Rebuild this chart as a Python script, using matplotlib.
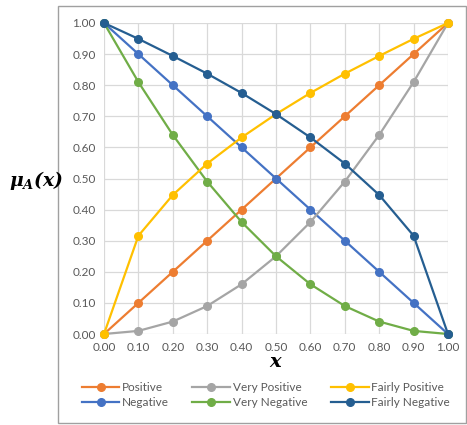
import matplotlib
matplotlib.use("Agg")
import matplotlib.pyplot as plt
from matplotlib.patches import Rectangle

# membership values for each linguistic hedge
x_vals = [0.0, 0.1, 0.2, 0.3, 0.4, 0.5, 0.6, 0.7, 0.8, 0.9, 1.0]
positive = [0.0, 0.1, 0.2, 0.3, 0.4, 0.5, 0.6, 0.7, 0.8, 0.9, 1.0]
negative = [1.0, 0.9, 0.8, 0.7, 0.6, 0.5, 0.4, 0.3, 0.2, 0.1, 0.0]
very_positive = [0.0, 0.01, 0.04, 0.09, 0.16, 0.25, 0.36, 0.49, 0.64, 0.81, 1.0]
very_negative = [1.0, 0.81, 0.64, 0.49, 0.36, 0.25, 0.16, 0.09, 0.04, 0.01, 0.0]
fairly_positive = [0.0, 0.316, 0.447, 0.548, 0.632, 0.707, 0.775, 0.837, 0.894, 0.949, 1.0]
fairly_negative = [1.0, 0.949, 0.894, 0.837, 0.775, 0.707, 0.632, 0.548, 0.447, 0.316, 0.0]

series = [
    ("Positive", positive, "#ED7D31"),
    ("Negative", negative, "#4472C4"),
    ("Very Positive", very_positive, "#A5A5A5"),
    ("Very Negative", very_negative, "#70AD47"),
    ("Fairly Positive", fairly_positive, "#FFC000"),
    ("Fairly Negative", fairly_negative, "#255E91"),
]

plt.rcParams['font.family'] = ['Lato', 'DejaVu Sans']
plt.rcParams['mathtext.fontset'] = 'dejavuserif'

fig = plt.figure(figsize=(4.67, 4.25), dpi=100)
ax = fig.add_axes([0.2227, 0.2141, 0.7366, 0.7318])

for name, vals, col in series:
    ax.plot(x_vals, vals, color=col, lw=1.6, marker='o', ms=5.5, label=name,
            zorder=3, clip_on=False)

ax.set_xlim(0, 1)
ax.set_ylim(0, 1)
ticks = [i / 10 for i in range(11)]
ax.set_xticks(ticks)
ax.set_yticks(ticks)
ax.set_xticklabels(["%.2f" % t for t in ticks])
ax.set_yticklabels(["%.2f" % t for t in ticks])
ax.tick_params(length=0, labelsize=8.5, colors='#595959', pad=6)
ax.grid(color='#D9D9D9', lw=0.9)
ax.set_axisbelow(True)
for s in ax.spines.values():
    s.set_visible(False)

ax.set_xlabel(r'$\mathbfit{x}$', fontsize=14, labelpad=0)
fig.text(0.078, 0.575, r'$\mathbfit{\mu_A(x)}$', fontsize=13.5, ha='center', va='center')

ax.legend(loc='upper center', bbox_to_anchor=(0.47, -0.12), ncol=3, frameon=False,
          fontsize=8.5, handlelength=3.2, handletextpad=0.2, columnspacing=2.0,
          labelspacing=0.35, labelcolor='#595959')

fig.patches.append(Rectangle((0.125, 0.005), 0.872, 0.98, transform=fig.transFigure,
                             fill=False, edgecolor='#A0A0A0', lw=1.0))

fig.savefig("out.png", dpi=100)
